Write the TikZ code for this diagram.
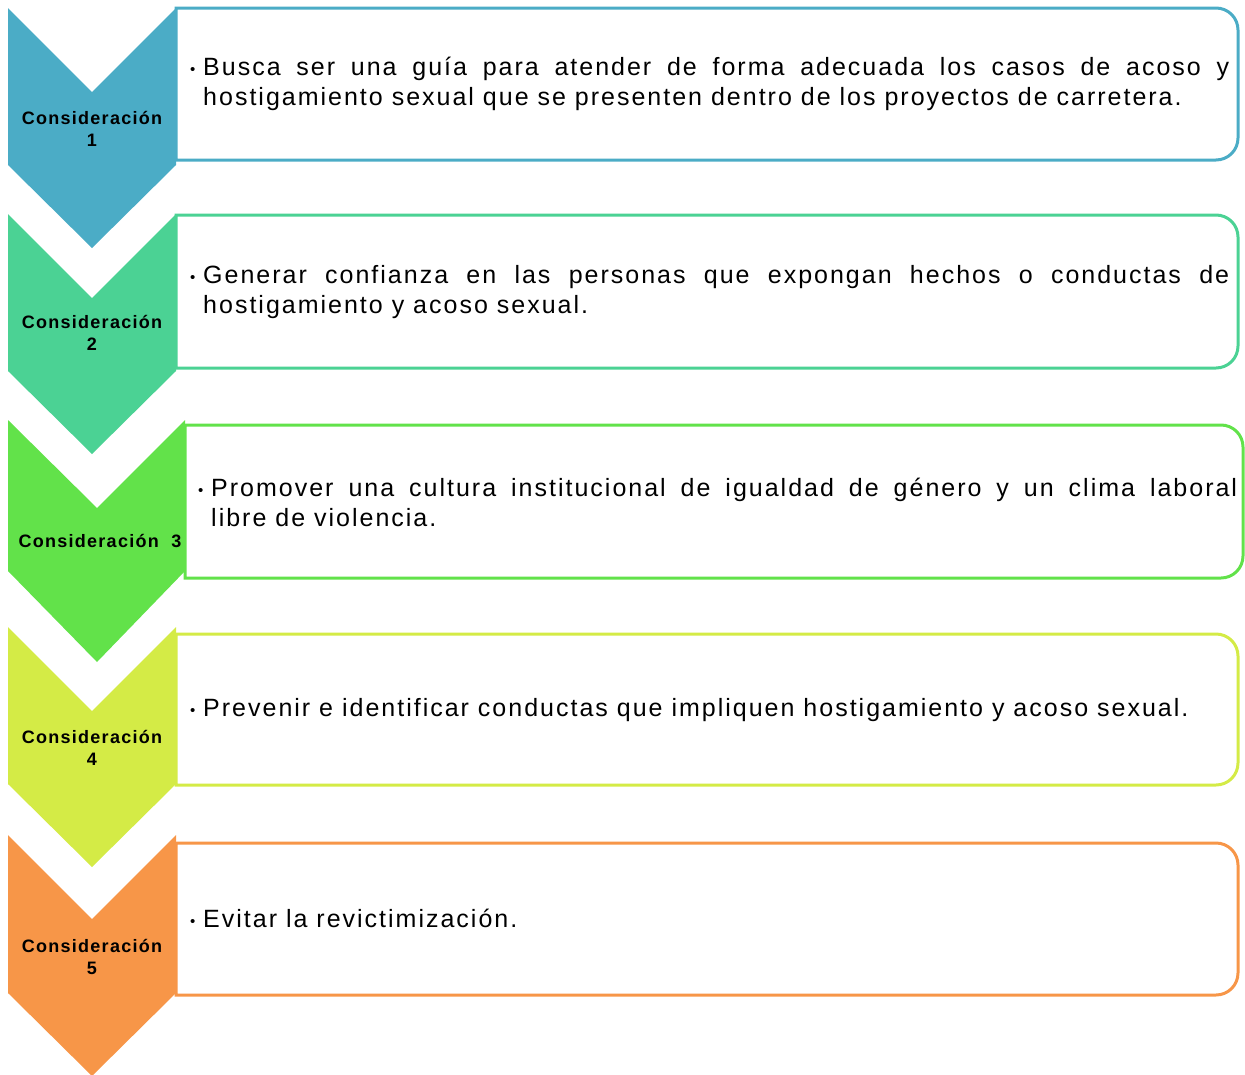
\documentclass[tikz,border=0pt]{standalone}
\usepackage{fontspec}
\setmainfont{Liberation Sans}
\newfontfamily\labfont[LetterSpace=7]{Liberation Sans}
\newfontfamily\txtfont[LetterSpace=8]{Liberation Sans}
\usetikzlibrary{positioning}
\definecolor{cone}{RGB}{75,172,198}
\definecolor{ctwo}{RGB}{75,210,148}
\definecolor{cthree}{RGB}{98,226,74}
\definecolor{cfour}{RGB}{212,235,70}
\definecolor{cfive}{RGB}{247,150,72}
\newcommand{\bulitem}[1]{\hangindent=13pt\hangafter=1\noindent\makebox[13pt][l]{\raisebox{1pt}{\fontsize{15}{15}\selectfont •}}#1\par}

\begin{document}
\begin{tikzpicture}[x=1pt, y=-1pt,
  box/.style={line width=3pt, fill=white},
  lab/.style={font=\labfont\bfseries\fontsize{18}{22}\selectfont, align=center, inner sep=0pt},
  txt/.style={anchor=west, inner sep=0pt, text width=1039pt, align=justify, font=\txtfont\fontsize{25}{30}\selectfont}]
  \useasboundingbox (0,0) rectangle (1245,1074);
  % chevrons
  \fill[cone] (8,8) -- (92,92) -- (176,8) -- (176,165) -- (92,248) -- (8,165) -- cycle;
  \fill[ctwo] (8,214) -- (92,298) -- (176,214) -- (176,371) -- (92,454) -- (8,371) -- cycle;
  \fill[cthree] (8,420) -- (97,508) -- (185,420) -- (185,571) -- (97,662) -- (8,571) -- cycle;
  \fill[cfour] (8,627) -- (92,711) -- (176,627) -- (176,784) -- (92,867) -- (8,784) -- cycle;
  \fill[cfive] (8,835) -- (92,919) -- (176,835) -- (176,993) -- (92,1076) -- (8,993) -- cycle;
  % boxes
  \draw[box, draw=cone] (176,8) -- (1216,8) arc[start angle=-90, end angle=0, radius=22] -- (1238,138) arc[start angle=0, end angle=90, radius=22] -- (176,160) -- cycle;
  \draw[box, draw=ctwo] (176,215) -- (1216,215) arc[start angle=-90, end angle=0, radius=22] -- (1238,346) arc[start angle=0, end angle=90, radius=22] -- (176,368) -- cycle;
  \draw[box, draw=cthree] (185,425) -- (1221,425) arc[start angle=-90, end angle=0, radius=22] -- (1243,556) arc[start angle=0, end angle=90, radius=22] -- (185,578) -- cycle;
  \draw[box, draw=cfour] (176,634) -- (1216,634) arc[start angle=-90, end angle=0, radius=22] -- (1238,763) arc[start angle=0, end angle=90, radius=22] -- (176,785) -- cycle;
  \draw[box, draw=cfive] (176,843) -- (1216,843) arc[start angle=-90, end angle=0, radius=22] -- (1238,973) arc[start angle=0, end angle=90, radius=22] -- (176,995) -- cycle;
  % labels
  \node[lab] (lab1) at (92,129) {Consideración\\1};
  \node[lab] (lab2) at (92,333) {Consideración\\2};
  \node[lab] (lab3) at (100,541) {Consideración~ 3};
  \node[lab] (lab4) at (92,748) {Consideración\\4};
  \node[lab] (lab5) at (92,957) {Consideración\\5};
  % texts
  \node[txt] (txt1) at (190,84) {\bulitem{Busca ser una guía para atender de forma adecuada los casos de acoso y\linebreak hostigamiento sexual que se presenten dentro de los proyectos de carretera.}};
  \node[txt] (txt2) at (190,292) {\bulitem{Generar confianza en las personas que expongan hechos o conductas de\linebreak hostigamiento y acoso sexual.}};
  \node[txt] (txt3) at (198,502) {\bulitem{Promover una cultura institucional de igualdad de género y un clima laboral\linebreak libre de violencia.}};
  \node[txt] (txt4) at (190,710) {\bulitem{Prevenir e identificar conductas que impliquen hostigamiento y acoso sexual.}};
  \node[txt] (txt5) at (190,918) {\bulitem{Evitar la revictimización.}};
\end{tikzpicture}
\end{document}
